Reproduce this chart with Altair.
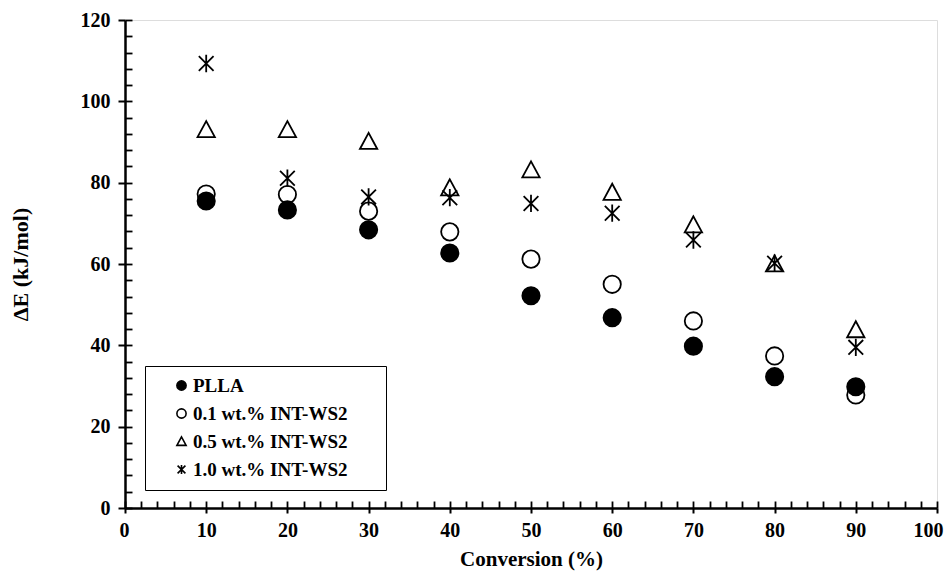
import altair as alt
import pandas as pd

conversion = [10, 20, 30, 40, 50, 60, 70, 80, 90]
series_names = ["PLLA", "0.1 wt.% INT-WS2", "0.5 wt.% INT-WS2", "1.0 wt.% INT-WS2"]
plla = [75.5, 73.3, 68.4, 62.7, 52.2, 46.8, 39.8, 32.3, 29.8]
ws01 = [77.2, 77.1, 73.0, 67.9, 61.2, 55.0, 46.0, 37.4, 27.8]
ws05 = [93.0, 93.0, 90.1, 78.7, 83.1, 77.6, 69.6, 60.0, 43.8]
ws10 = [109.3, 81.1, 76.5, 76.3, 74.9, 72.5, 65.9, 60.2, 39.5]

x_major = [0, 10, 20, 30, 40, 50, 60, 70, 80, 90, 100]
x_minor = list(range(0, 101, 2))
y_major = [0, 20, 40, 60, 80, 100, 120]
y_minor = list(range(0, 121, 4))

rows = []
for name, vals in zip(series_names, [plla, ws01, ws05, ws10]):
    for c, v in zip(conversion, vals):
        rows.append({"conv": c, "dE": v, "series": name})
df = pd.DataFrame(rows)

FONT = "Liberation Serif"
asterisk = "M0,-1L0,1M-0.85,-0.85L0.85,0.85M-0.85,0.85L0.85,-0.85"
triangle = "M0,-1L-1,0.85L1,0.85Z"
shapes = ["circle", "circle", triangle, asterisk]
fills = ["black", "transparent", "transparent", "transparent"]
strokes = ["black", "black", "black", "black"]

pad = "\u2800" * 2
legend = alt.Legend(
    title=None, orient="none", legendX=20, legendY=346,
    strokeColor="black", fillColor="white", padding=10,
    symbolSize=85, symbolStrokeWidth=1.6,
    symbolOffset=17, labelOffset=2, rowPadding=8, labelLimit=400,
    labelFont=FONT, labelFontWeight="bold", labelFontSize=19, labelColor="black",
    labelExpr="datum.label + '" + pad + "'",
)

xscale = alt.Scale(domain=[0, 100], nice=False, zero=False)
yscale = alt.Scale(domain=[0, 120], nice=False, zero=False)

points = alt.Chart(df).mark_point(
    filled=True, size=300, strokeWidth=1.8, opacity=1
).encode(
    x=alt.X("conv:Q", scale=xscale, axis=alt.Axis(
        orient="bottom", values=x_major, title="Conversion (%)", format="d",
        tickSize=5, tickWidth=2, tickColor="black",
        domainColor="black", domainWidth=2.5, grid=False,
        labelFlush=True, labelFlushOffset=6, labelOverlap=False,
        labelFont=FONT, labelFontWeight="bold", labelFontSize=20, labelColor="black",
        labelPadding=7, titleFont=FONT, titleFontWeight="bold", titleFontSize=21,
        titleColor="black", titlePadding=8)),
    y=alt.Y("dE:Q", scale=yscale, axis=alt.Axis(
        orient="left", values=y_major, title="ΔE (kJ/mol)", format="d",
        tickSize=7, tickWidth=2, tickColor="black",
        domainColor="black", domainWidth=2.5, grid=False,
        labelFlush=False, labelOverlap=False,
        labelFont=FONT, labelFontWeight="bold", labelFontSize=20, labelColor="black",
        labelPadding=8, titleFont=FONT, titleFontWeight="bold", titleFontSize=22,
        titleColor="black", titlePadding=48)),
    shape=alt.Shape("series:N", scale=alt.Scale(domain=series_names, range=shapes), legend=legend),
    fill=alt.Fill("series:N", scale=alt.Scale(domain=series_names, range=fills), legend=legend),
    stroke=alt.Stroke("series:N", scale=alt.Scale(domain=series_names, range=strokes), legend=legend),
)

ticks = alt.Chart(df).mark_point(opacity=0).encode(
    x=alt.X("conv:Q", scale=xscale, axis=alt.Axis(
        orient="bottom", values=x_minor, labels=False, domain=False, grid=False,
        title=None, tickSize=7, tickWidth=1.8, tickColor="black", offset=-7)),
    y=alt.Y("dE:Q", scale=yscale, axis=alt.Axis(
        orient="left", values=y_minor, labels=False, domain=False, grid=False,
        title=None, tickSize=7, tickWidth=1.8, tickColor="black", offset=-7)),
)

chart = alt.layer(points, ticks).resolve_axis(x="independent", y="independent").properties(
    width=812, height=488,
    autosize=alt.AutoSizeParams(type="none"),
    padding={"left": 117, "top": 12, "right": 7, "bottom": 64},
).configure_view(stroke="black", strokeWidth=2.5).configure(background="white")

chart.save("out.html", embed_options={"renderer": "svg", "actions": False})
